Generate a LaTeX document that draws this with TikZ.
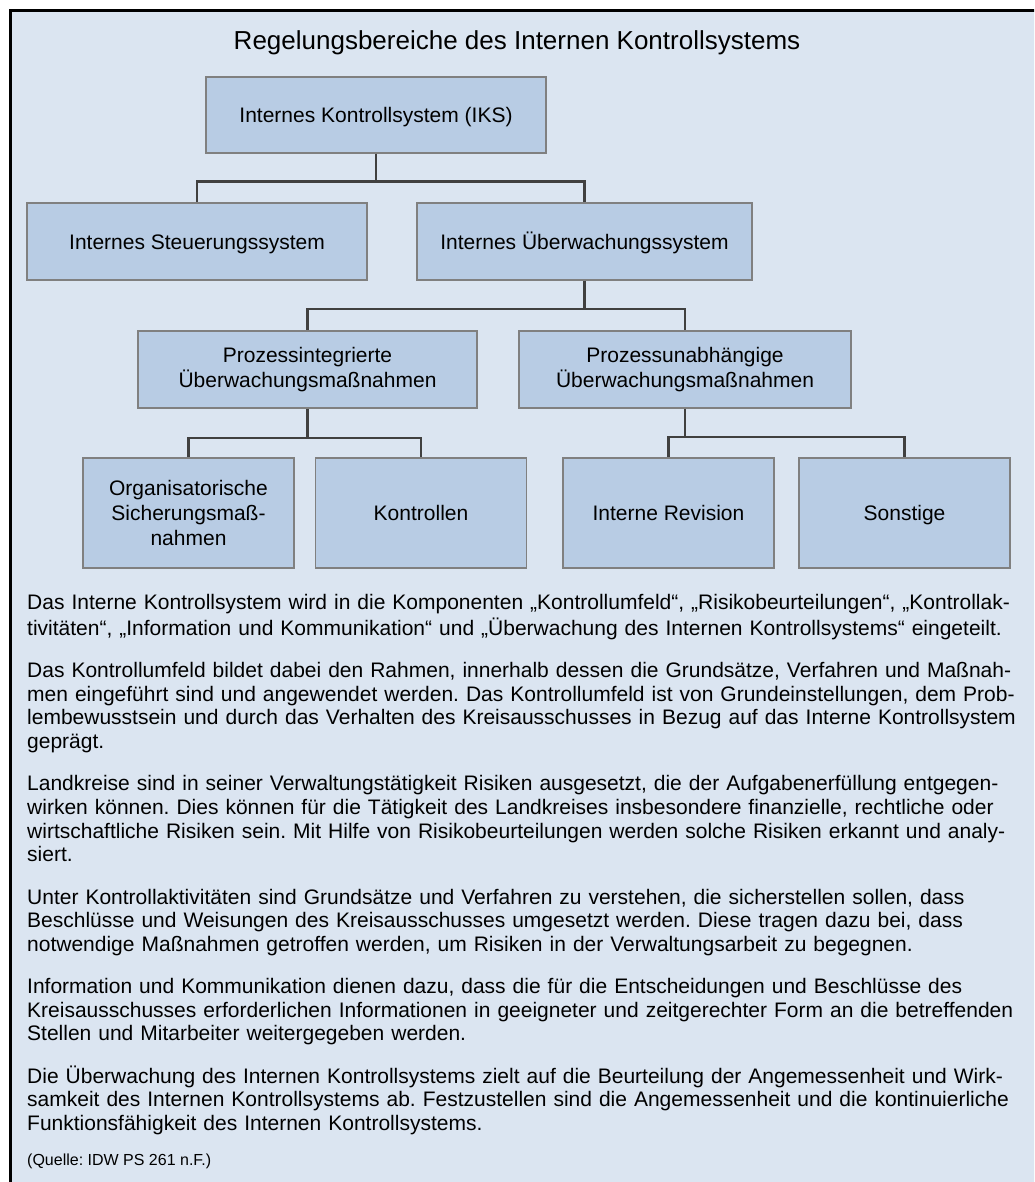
\documentclass[tikz,border=0pt]{standalone}
\usepackage{fontspec}
\setmainfont{Liberation Sans}
\definecolor{bgblue}{HTML}{DBE5F1}
\definecolor{boxblue}{HTML}{B8CCE4}
\definecolor{boxline}{HTML}{808080}
\definecolor{connline}{HTML}{404040}
\newcommand\jl[1]{\makebox[983pt][s]{#1}\\}
\setlength{\parindent}{0pt}
\frenchspacing
\tikzset{
  orgbox/.style={draw=boxline, line width=1.5pt, fill=boxblue, inner sep=0pt,
    align=center, font=\fontsize{21}{25}\selectfont, text=black},
  oneline/.style={text height=15.3pt, text depth=0pt},
  wideb/.style={minimum width=340pt, minimum height=77pt},
  smallb/.style={minimum width=211pt, minimum height=110pt},
  conn/.style={draw=connline, line width=2.5pt},
  bodytext/.style={anchor=north west, inner sep=0pt, text width=983pt, align=left,
    font=\fontsize{21}{23.6}\selectfont, text=black},
}
\begin{document}
\begin{tikzpicture}[x=1pt,y=-1pt]
\useasboundingbox (0,0) rectangle (1034,1182);
\begin{scope}
  \clip (0,0) rectangle (1034,1182);
  \fill[white] (0,0) rectangle (1034,1182);
  \draw[black, line width=3pt, fill=bgblue] (10.5,10.5) rectangle (1060,1210);
\end{scope}

\node[anchor=base, inner sep=0pt, font=\fontsize{26}{30}\selectfont] (title) at (517,50)
  {Regelungsbereiche des Internen Kontrollsystems};

\node[orgbox, oneline, minimum width=340pt, minimum height=76pt] (iks) at (376,115) {Internes Kontrollsystem (IKS)};
\node[orgbox, oneline, wideb] (ist) at (197,241.5) {Internes Steuerungssystem};
\node[orgbox, oneline, wideb, minimum width=335pt] (iue) at (584.5,241.5) {Internes Überwachungssystem};
\node[orgbox, wideb, minimum width=339pt] (pi) at (307.5,369.5) {Prozessintegrierte\\Überwachungsmaßnahmen};
\node[orgbox, wideb, minimum width=332pt] (pu) at (685,369.5) {Prozessunabhängige\\Überwachungsmaßnahmen};
\node[orgbox, smallb] (org) at (188.5,513) {Organisatorische\\Sicherungsmaß-\\nahmen};
\node[orgbox, oneline, smallb] (kon) at (421,513) {Kontrollen};
\node[orgbox, oneline, smallb] (rev) at (668.5,513) {Interne Revision};
\node[orgbox, oneline, smallb] (son) at (904.5,513) {Sonstige};

\draw[conn] (iks.south) -- ++(0,28) -| (ist.north);
\draw[conn] (iks.south) -- ++(0,28) -| (iue.north);
\draw[conn] (iue.south) -- ++(0,28) -| (pi.north);
\draw[conn] (iue.south) -- ++(0,28) -| (pu.north);
\draw[conn] (pi.south) -- ++(0,29) -| (org.north);
\draw[conn] (pi.south) -- ++(0,29) -| (kon.north);
\draw[conn] (pu.south) -- ++(0,28) -| (rev.north);
\draw[conn] (pu.south) -- ++(0,28) -| (son.north);

\node[bodytext] (body) at (27,593) {%
\jl{\strut Das Interne Kontrollsystem wird in die Komponenten „Kontrollumfeld“, „Risikobeurteilungen“, „Kontrollak-}
tivitäten“, „Information und Kommunikation“ und „Überwachung des Internen Kontrollsystems“ eingeteilt.\\[18.8pt]
\jl{Das Kontrollumfeld bildet dabei den Rahmen, innerhalb dessen die Grundsätze, Verfahren und Maßnah-}
\jl{men eingeführt sind und angewendet werden. Das Kontrollumfeld ist von Grundeinstellungen, dem Prob-}
\jl{lembewusstsein und durch das Verhalten des Kreisausschusses in Bezug auf das Interne Kontrollsystem}
geprägt.\\[18.8pt]
\jl{Landkreise sind in seiner Verwaltungstätigkeit Risiken ausgesetzt, die der Aufgabenerfüllung entgegen-}
\jl{wirken können. Dies können für die Tätigkeit des Landkreises insbesondere finanzielle, rechtliche oder}
\jl{wirtschaftliche Risiken sein. Mit Hilfe von Risikobeurteilungen werden solche Risiken erkannt und analy-}
siert.\\[18.8pt]
\jl{Unter Kontrollaktivitäten sind Grundsätze und Verfahren zu verstehen, die sicherstellen sollen, dass}
\jl{Beschlüsse und Weisungen des Kreisausschusses umgesetzt werden. Diese tragen dazu bei, dass}
notwendige Maßnahmen getroffen werden, um Risiken in der Verwaltungsarbeit zu begegnen.\\[18.8pt]
\jl{Information und Kommunikation dienen dazu, dass die für die Entscheidungen und Beschlüsse des}
\jl{Kreisausschusses erforderlichen Informationen in geeigneter und zeitgerechter Form an die betreffenden}
Stellen und Mitarbeiter weitergegeben werden.\\[18.8pt]
\jl{Die Überwachung des Internen Kontrollsystems zielt auf die Beurteilung der Angemessenheit und Wirk-}
\jl{samkeit des Internen Kontrollsystems ab. Festzustellen sind die Angemessenheit und die kontinuierliche}
Funktionsfähigkeit des Internen Kontrollsystems.};

\node[anchor=base west, inner sep=0pt, font=\fontsize{16}{18}\selectfont] (source) at (27,1165)
  {(Quelle: IDW PS 261 n.F.)};
\end{tikzpicture}
\end{document}
